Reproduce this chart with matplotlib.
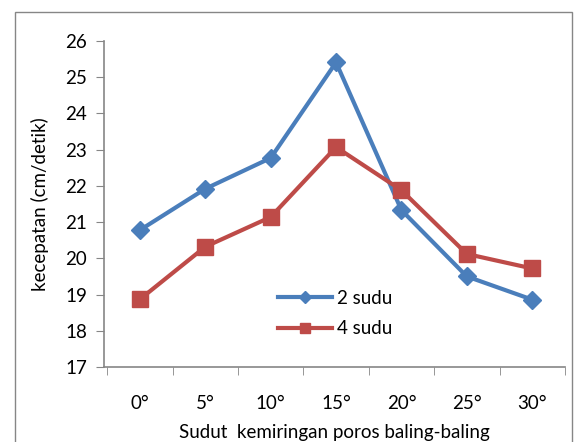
import matplotlib.pyplot as plt
from matplotlib.patches import Rectangle

# data
angles = ["0°", "5°", "10°", "15°", "20°", "25°", "30°"]
sudu2 = [20.78, 21.92, 22.77, 25.41, 21.33, 19.5, 18.86]
sudu4 = [18.87, 20.32, 21.14, 23.07, 21.88, 20.12, 19.72]

plt.rcParams["font.family"] = ["Lato", "DejaVu Sans"]

fig = plt.figure(figsize=(5.77, 4.42), dpi=100)
ax = fig.add_axes([0.1802, 0.1697, 0.7988, 0.7375])

# outer chart border (Excel style)
fig.patches.append(Rectangle((15 / 577, -0.05), 557 / 577, 1.05 - 12 / 442,
                             transform=fig.transFigure, fill=False,
                             edgecolor="#868686", linewidth=1.0))

x = range(len(angles))
ax.plot(x, sudu2, color="#4A7EBB", linewidth=3, marker="D", markersize=9,
        label="2 sudu")
ax.plot(x, sudu4, color="#BE4B48", linewidth=3, marker="s", markersize=11,
        label="4 sudu")

ax.set_xlim(-0.55, len(angles) - 0.5)
ax.set_ylim(17, 26)
ax.set_yticks(range(17, 27))

ax.set_xticks(list(x))
ax.set_xticklabels(angles)
ax.set_xticks([i - 0.5 for i in range(len(angles) + 1)], minor=True)
ax.tick_params(axis="x", which="major", length=0, pad=20, labelsize=13.5)
ax.tick_params(axis="x", which="minor", length=6, color="#868686")
ax.tick_params(axis="y", length=6, color="#868686", labelsize=13.5, pad=6)

for s in ["top", "right"]:
    ax.spines[s].set_visible(False)
for s in ["left", "bottom"]:
    ax.spines[s].set_color("#868686")
    ax.spines[s].set_linewidth(1.2)

ax.set_xlabel("Sudut  kemiringan poros baling-baling", fontsize=13.5, labelpad=9)
ax.set_ylabel("kecepatan (cm/detik)", fontsize=13.5, labelpad=12)

leg = ax.legend(loc="lower left", bbox_to_anchor=(0.34, 0.04), frameon=False,
                fontsize=13.5, markerscale=0.65, handlelength=2.9,
                labelspacing=0.7, handletextpad=0.25)

fig.savefig("out.png", dpi=100)
